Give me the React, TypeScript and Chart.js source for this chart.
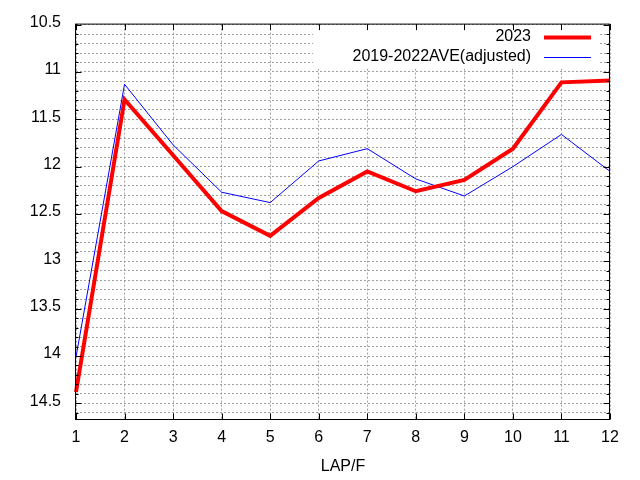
import { useEffect, useRef } from "react"
import { Chart, registerables, type Plugin } from "chart.js"

Chart.register(...registerables)

// lap numbers on the x axis
const laps = ["1", "2", "3", "4", "5", "6", "7", "8", "9", "10", "11", "12"]
// lap times (y axis reversed)
const times2023 = [14.38, 11.29, 11.88, 12.47, 12.73, 12.33, 12.05, 12.26, 12.14, 11.81, 11.11, 11.09]
const timesAve = [14.01, 11.13, 11.77, 12.27, 12.38, 11.94, 11.81, 12.13, 12.31, 12.0, 11.66, 12.05]
const seriesNames = ["2023", "2019-2022AVE(adjusted)"]
const yLabelValues = [10.5, 11, 11.5, 12, 12.5, 13, 13.5, 14, 14.5]
const xTitle = "LAP/F"

const FONT = "'Liberation Sans', Arial, sans-serif"

const isLabelled = (v: number) => yLabelValues.some((l) => Math.abs(l - v) < 1e-6)

// gnuplot-like opaque key in the top right corner
const keyPlugin: Plugin<"line"> = {
  id: "gnuplotKey",
  beforeDatasetsDraw(chart) {
    const { ctx, chartArea } = chart
    const right = chartArea.right
    const top = chartArea.top
    ctx.save()
    ctx.fillStyle = "#ffffff"
    ctx.fillRect(313, top + 1, right - 12 - 313, 43)
    ctx.font = `16px ${FONT}`
    ctx.textAlign = "right"
    ctx.textBaseline = "middle"
    const rows = [top + 12.5, top + 32]
    chart.data.datasets.forEach((ds, i) => {
      const y = rows[i]
      ctx.fillStyle = "#000"
      ctx.fillText(String(ds.label), right - 79, y - 0.5)
      ctx.strokeStyle = String(ds.borderColor)
      ctx.lineWidth = Number(ds.borderWidth)
      ctx.beginPath()
      ctx.moveTo(right - 66, Math.round(y) + 0.5)
      ctx.lineTo(right - 19, Math.round(y) + 0.5)
      ctx.stroke()
    })
    ctx.restore()
  },
}

// frame with inward ticks on all four sides
const framePlugin: Plugin<"line"> = {
  id: "frame",
  afterDraw(chart) {
    const { ctx, chartArea: a, scales } = chart
    const xs = scales.x
    const ys = scales.y
    const left = a.left - 0.5
    const right = a.right - 0.5
    const top = a.top - 0.5
    const bottom = a.bottom + 0.5
    ctx.save()
    ctx.strokeStyle = "#000"
    ctx.lineWidth = 1
    ctx.beginPath()
    ys.ticks.forEach((t) => {
      const p = Math.round(ys.getPixelForValue(t.value)) + 0.5
      const len = isLabelled(t.value) ? 6 : 3
      ctx.moveTo(left, p)
      ctx.lineTo(left + len, p)
      ctx.moveTo(right, p)
      ctx.lineTo(right - len, p)
    })
    xs.ticks.forEach((_, i) => {
      const p = Math.round(xs.getPixelForTick(i)) + 0.5
      ctx.moveTo(p, bottom)
      ctx.lineTo(p, bottom - 6)
      ctx.moveTo(p, top)
      ctx.lineTo(p, top + 6)
    })
    ctx.stroke()
    ctx.strokeRect(left, top, right - left, bottom - top)
    ctx.restore()
  },
}

export default function App() {
  const canvasRef = useRef<HTMLCanvasElement>(null)
  const chartRef = useRef<Chart | null>(null)

  useEffect(() => {
    document.body.style.margin = "0"
    if (!canvasRef.current) return
    if (chartRef.current) chartRef.current.destroy()

    const ctx = canvasRef.current.getContext("2d")
    if (!ctx) return

    chartRef.current = new Chart(ctx, {
      type: "line",
      data: {
        labels: laps,
        datasets: [
          {
            label: seriesNames[0],
            data: times2023,
            borderColor: "#ff0000",
            borderWidth: 4,
            pointRadius: 0,
            tension: 0,
            order: 1,
          },
          {
            label: seriesNames[1],
            data: timesAve,
            borderColor: "#0000ff",
            borderWidth: 1,
            pointRadius: 0,
            tension: 0,
            order: 2,
          },
        ],
      },
      options: {
        responsive: false,
        animation: false,
        events: [],
        layout: { padding: { top: 20, right: 30, left: 0, bottom: 0 } },
        plugins: {
          legend: { display: false },
          tooltip: { enabled: false },
        },
        scales: {
          x: {
            type: "category",
            offset: false,
            grid: { color: "#a0a0a0", drawTicks: false, offset: false },
            border: { display: false, dash: [2, 2] },
            ticks: {
              color: "#000",
              font: { family: FONT, size: 16 },
              padding: 9,
              maxRotation: 0,
              autoSkip: false,
            },
            title: {
              display: true,
              text: xTitle,
              color: "#000",
              font: { family: FONT, size: 16 },
              padding: { top: 0, bottom: 4 },
            },
            afterFit(scale) {
              scale.height = 61
            },
          },
          y: {
            type: "linear",
            reverse: true,
            min: 10.5,
            max: 14.665,
            grid: { color: "#a0a0a0", drawTicks: false },
            border: { display: false, dash: [2, 2] },
            ticks: {
              stepSize: 0.1,
              includeBounds: false,
              autoSkip: false,
              color: "#000",
              font: { family: FONT, size: 16 },
              padding: 15,
              labelOffset: -2,
              callback: (value) => {
                const v = Number(value)
                return isLabelled(v) ? String(Math.round(v * 10) / 10) : ""
              },
            },
            afterFit(scale) {
              scale.width = 76
            },
          },
        },
      },
      plugins: [keyPlugin, framePlugin],
    })

    return () => {
      if (chartRef.current) {
        chartRef.current.destroy()
        chartRef.current = null
      }
    }
  }, [])

  return (
    <div style={{ width: 640, height: 480 }}>
      <canvas ref={canvasRef} width={640} height={480} />
    </div>
  )
}
